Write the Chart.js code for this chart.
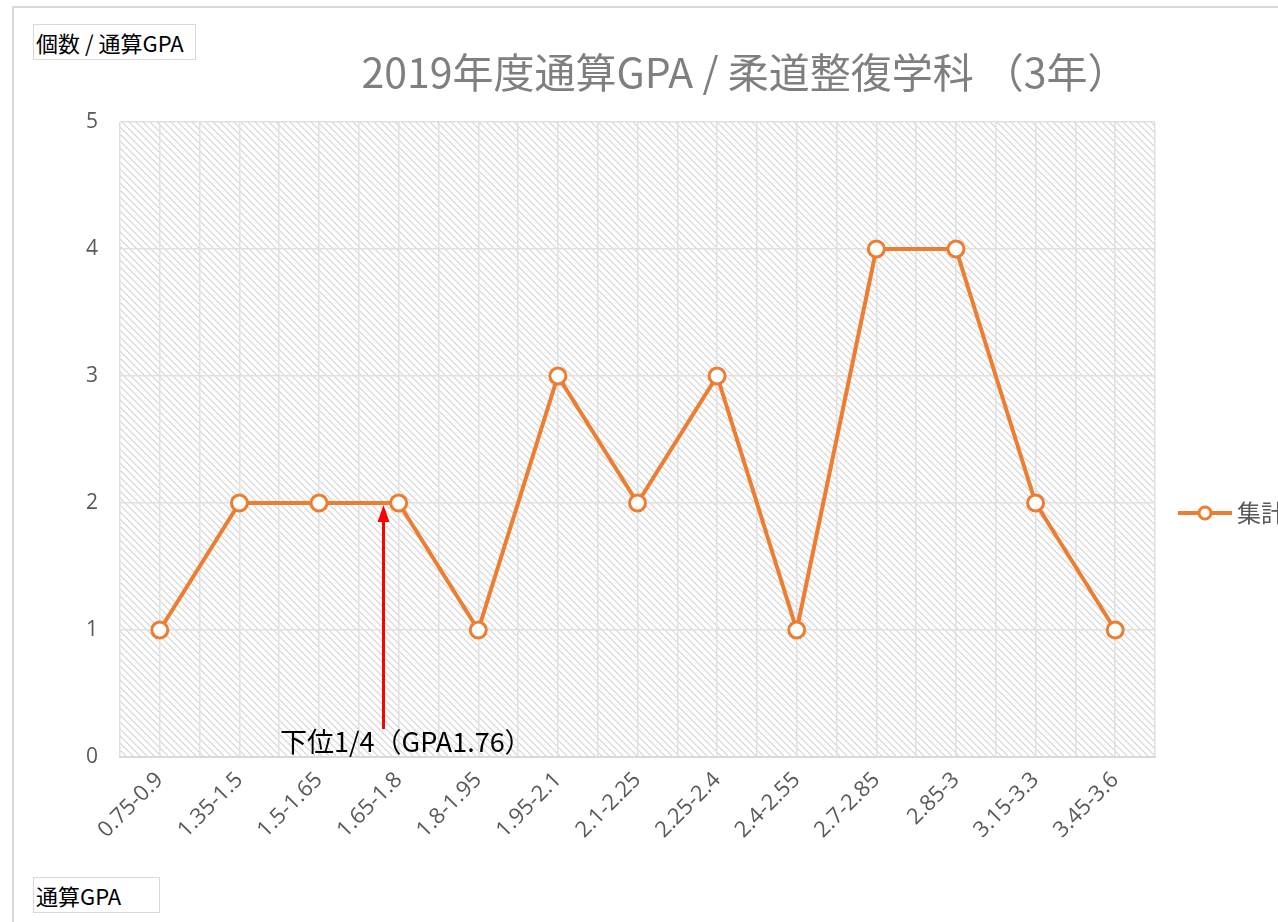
<!DOCTYPE html>
<html>
<head>
<meta charset="utf-8">
<script src="https://cdn.jsdelivr.net/npm/chart.js@4.4.1/dist/chart.umd.min.js"></script>
<style>
  html,body{margin:0;padding:0;background:#fff;}
  #wrap{position:relative;width:1278px;height:922px;overflow:hidden;}
  #frame{position:absolute;left:12px;top:6px;width:1400px;height:1000px;border:2px solid #d9d9d9;box-sizing:border-box;}
  .axbox{position:absolute;border:1px solid #d9d9d9;background:#fff;color:#000;font:22px 'Noto Sans CJK JP',sans-serif;padding:0 2px;line-height:34px;box-sizing:border-box;white-space:nowrap;overflow:hidden;}
  canvas{position:absolute;left:0;top:0;}
</style>
</head>
<body>
<div id="wrap">
  <div id="frame"></div>
  <canvas id="c" width="1278" height="922"></canvas>
  <div class="axbox" style="left:33px;top:24px;width:163px;height:36px;">個数 / 通算GPA</div>
  <div class="axbox" style="left:33px;top:877px;width:127px;height:36px;">通算GPA</div>
</div>
<script>
// ranges on the x axis and counts per range
const categories = ['0.75-0.9','1.35-1.5','1.5-1.65','1.65-1.8','1.8-1.95','1.95-2.1','2.1-2.25','2.25-2.4','2.4-2.55','2.7-2.85','2.85-3','3.15-3.3','3.45-3.6'];
const counts = [1,2,2,2,1,3,2,3,1,4,4,2,1];
const yTicks = [0,1,2,3,4,5];
const seriesName = '集計';
const chartTitle = '2019年度通算GPA / 柔道整復学科 （3年）';
// annotation: lower quartile marker (position as category index, value range)
const noteText = '下位1/4（GPA1.76）';
const noteIndex = 2.81;
const noteFrom = 0.22, noteTo = 2;

const ORANGE = '#ED7D31';
const FONT = "'Open Sans','Noto Sans CJK JP',sans-serif";
const JFONT = "'Noto Sans CJK JP',sans-serif";

function hatch(ctx){
  const n = 7;
  const p = document.createElement('canvas'); p.width = n; p.height = n;
  const g = p.getContext('2d');
  g.fillStyle = '#fff'; g.fillRect(0,0,n,n);
  g.strokeStyle = '#d4d4d4'; g.lineWidth = 1.2;
  g.beginPath(); g.moveTo(-1,-1); g.lineTo(n+1,n+1); g.moveTo(-1,n-1); g.lineTo(1,n+1); g.moveTo(n-1,-1); g.lineTo(n+1,1); g.stroke();
  return ctx.createPattern(p,'repeat');
}

const bgPlugin = {
  id:'bg',
  beforeDraw(chart){
    const {ctx, chartArea:a} = chart;
    ctx.save();
    ctx.fillStyle = hatch(ctx);
    ctx.fillRect(a.left, a.top, a.right-a.left, a.bottom-a.top);
    ctx.restore();
  },
  afterDatasetsDraw(chart){
    const {ctx, chartArea:a} = chart;
    const xs = chart.scales.x, ys = chart.scales.y;
    ctx.save();
    // title
    ctx.fillStyle = '#7f7f7f';
    ctx.font = "41px " + JFONT;
    ctx.textAlign = 'center'; ctx.textBaseline = 'middle';
    ctx.fillText(chartTitle, 745, 72);
    // arrow + note
    const ax = xs.getPixelForValue(noteIndex);
    const y0 = ys.getPixelForValue(noteFrom), y1 = ys.getPixelForValue(noteTo);
    ctx.strokeStyle = '#ff0000'; ctx.fillStyle = '#ff0000'; ctx.lineWidth = 3;
    ctx.beginPath(); ctx.moveTo(ax, y0); ctx.lineTo(ax, y1+16); ctx.stroke();
    ctx.beginPath(); ctx.moveTo(ax, y1+2); ctx.lineTo(ax-6, y1+19); ctx.lineTo(ax+6, y1+19); ctx.closePath(); ctx.fill();
    ctx.fillStyle = '#000';
    ctx.font = "27px " + JFONT;
    ctx.textAlign = 'left'; ctx.textBaseline = 'alphabetic';
    ctx.fillText(noteText, 280, 752);
    // legend
    const ly = ys.getPixelForValue(2) + 10;
    const lx = a.right + 23;
    ctx.strokeStyle = ORANGE; ctx.lineWidth = 4;
    ctx.beginPath(); ctx.moveTo(lx, ly); ctx.lineTo(lx+54, ly); ctx.stroke();
    ctx.fillStyle = '#fff'; ctx.lineWidth = 3;
    ctx.beginPath(); ctx.arc(lx+27, ly, 6, 0, Math.PI*2); ctx.fill(); ctx.stroke();
    ctx.fillStyle = '#595959'; ctx.font = "24px " + JFONT;
    ctx.textBaseline = 'middle';
    ctx.fillText(seriesName, lx+59, ly);
    ctx.restore();
  }
};

new Chart(document.getElementById('c'), {
  type:'line',
  data:{
    labels:categories,
    datasets:[{
      label:seriesName, data:counts,
      borderColor:ORANGE, borderWidth:4, tension:0,
      pointRadius:8, pointHoverRadius:8, pointBorderWidth:3,
      pointBackgroundColor:'#fff', pointBorderColor:ORANGE
    }]
  },
  options:{
    responsive:false, animation:false,
    layout:{padding:{top:122, right:123, left:0, bottom:0}},
    plugins:{legend:{display:false}, tooltip:{enabled:false}, title:{display:false}},
    scales:{
      x:{
        type:'category', offset:true,
        grid:{display:false},
        border:{display:true, color:'#d9d9d9', width:2},
        ticks:{minRotation:45, maxRotation:45, color:'#595959', font:{size:22, family:FONT}, padding:2, autoSkip:false},
        afterFit(s){ s.height = 165; }
      },
      xg:{
        type:'linear', position:'bottom', min:-0.5, max:12.5,
        grid:{color:'#e0e0e0', lineWidth:1.5, drawTicks:false},
        border:{display:false},
        ticks:{display:false, stepSize:0.5},
        afterFit(s){ s.height = 0; }
      },
      y:{
        min:0, max:5,
        afterBuildTicks(s){ s.ticks = yTicks.map(v=>({value:v})); },
        grid:{color:'#e0e0e0', lineWidth:1.5, drawTicks:false},
        border:{display:false},
        ticks:{color:'#595959', font:{size:21, family:FONT}, padding:22},
        afterFit(s){ s.width = 120; }
      }
    }
  },
  plugins:[bgPlugin]
});
</script>
</body>
</html>
